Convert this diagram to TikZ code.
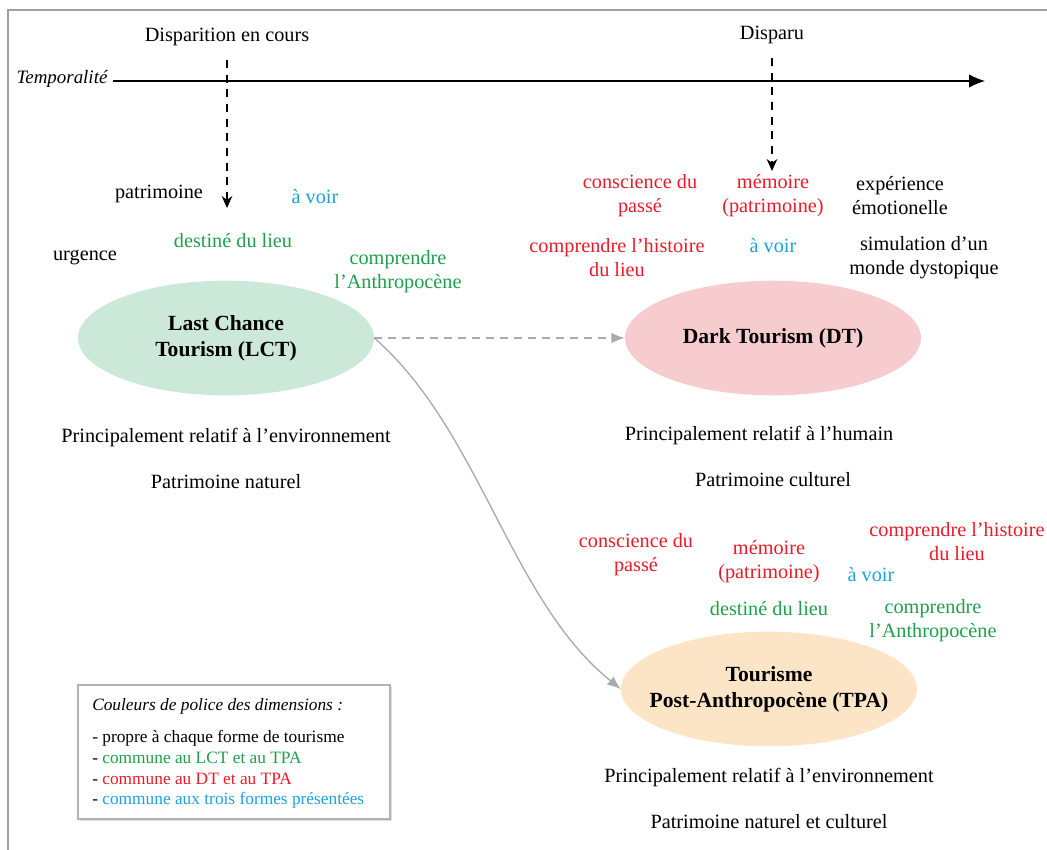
\documentclass[tikz,border=0pt]{standalone}
\usepackage{fontspec}
\setmainfont{Liberation Serif}
\usetikzlibrary{arrows.meta,shapes.geometric}
\definecolor{cgreen}{RGB}{30,160,75}
\definecolor{cred}{RGB}{232,28,40}
\definecolor{cblue}{RGB}{30,160,225}
\definecolor{fgreen}{RGB}{203,232,217}
\definecolor{fpink}{RGB}{247,204,206}
\definecolor{forange}{RGB}{251,229,198}
\definecolor{frame}{RGB}{160,160,160}
\begin{document}
\begin{tikzpicture}[x=0.75pt,y=-0.75pt,
  lbl/.style={font=\fontsize{15.2}{18}\selectfont, align=center, inner sep=0pt},
  ell/.style={ellipse, inner sep=0pt, minimum width=222pt, minimum height=86pt},
  elltext/.style={inner sep=0pt, font=\bfseries\fontsize{16.2}{19.5}\selectfont, align=center},
  leg/.style={font=\fontsize{13}{15}\selectfont, anchor=west, inner sep=0pt},
  dasharrow/.style={line width=0.9pt, dash pattern=on 6pt off 5pt, -{Stealth[length=9pt,width=8pt]}},
  grayarrow/.style={draw=frame!90!white, line width=1pt, -{Latex[length=10pt,width=8pt]}}
]
\useasboundingbox (0,0) rectangle (1047,850);
% frame
\coordinate (f1) at (8,850);
\coordinate (f2) at (8,10);
\coordinate (f3) at (1047,10);
\draw[frame, line width=1pt] (f1) -- (f2) -- (f3);

% axis
\node[lbl, font=\itshape\fontsize{14.2}{18}\selectfont] (temp) at (62,79) {Temporalité};
\coordinate (axstart) at (113,81);
\coordinate (axend) at (985,81);
\draw[line width=0.8pt, -{Latex[length=12pt,width=10pt]}] (axstart) -- (axend);

\node[lbl] (disp1) at (227,37) {Disparition en cours};
\node[lbl] (disp2) at (772,35) {Disparu};
\coordinate (a1s) at (227,60);
\coordinate (a1e) at (227,208);
\coordinate (a2s) at (772,58);
\coordinate (a2e) at (772,171);
\draw[dasharrow] (a1s) -- (a1e);
\draw[dasharrow] (a2s) -- (a2e);

% LCT
\node[ell, fill=fgreen] (lct) at (226,338) {};
\node[elltext] (lcttext) at (lct.center) {Last Chance\\Tourism (LCT)};
\node[lbl] (l1) at (159,194) {patrimoine};
\node[lbl, text=cblue] (l2) at (315,197) {à voir};
\node[lbl, text=cgreen] (l3) at (233,241) {destiné du lieu};
\node[lbl] (l4) at (85,257) {urgence};
\node[lbl, text=cgreen] (l5) at (398,272) {comprendre\\l’Anthropocène};
\node[lbl] (l6) at (226,438) {Principalement relatif à l’environnement};
\node[lbl] (l7) at (226,482) {Patrimoine naturel};

% DT
\node[ell, fill=fpink] (dt) at (773,338) {};
\node[elltext] (dttext) at (dt.center) {Dark Tourism (DT)};
\node[lbl, text=cred] (d1) at (640,196) {conscience du\\passé};
\node[lbl, text=cred] (d2) at (773,196) {mémoire\\(patrimoine)};
\node[lbl] (d3) at (900,196) {expérience\\émotionelle};
\node[lbl, text=cred] (d4) at (617,258) {comprendre l’histoire\\du lieu};
\node[lbl, text=cblue] (d5) at (773,246) {à voir};
\node[lbl] (d6) at (924,258) {simulation d’un\\monde dystopique};
\node[lbl] (d7) at (759,436) {Principalement relatif à l’humain};
\node[lbl] (d8) at (773,480) {Patrimoine culturel};

% TPA
\node[ell, fill=forange] (tpa) at (769,689) {};
\node[elltext] (tpatext) at (tpa.center) {Tourisme\\Post-Anthropocène (TPA)};
\node[lbl, text=cred] (t1) at (636,555) {conscience du\\passé};
\node[lbl, text=cred] (t2) at (769,562) {mémoire\\(patrimoine)};
\node[lbl, text=cblue] (t3) at (871,575) {à voir};
\node[lbl, text=cred] (t4) at (957,542) {comprendre l’histoire\\du lieu};
\node[lbl, text=cgreen] (t5) at (769,609) {destiné du lieu};
\node[lbl, text=cgreen] (t6) at (933,621) {comprendre\\l’Anthropocène};
\node[lbl] (t7) at (769,778) {Principalement relatif à l’environnement};
\node[lbl] (t8) at (769,822) {Patrimoine naturel et culturel};

% connectors
\draw[grayarrow, line width=1.5pt, dash pattern=on 6pt off 4.5pt] (lct.east) -- (dt.west);
\draw[grayarrow] (lct.east) .. controls (480,430) and (510,600) .. (tpa.west);

% legend
\fill[black!12] (80,687) rectangle (392,821);
\node[draw=frame!80!white, fill=white, line width=0.8pt, minimum width=234pt, minimum height=100.5pt, inner sep=0pt] (legend) at (234,752) {};
\node[leg, font=\itshape\fontsize{13}{15}\selectfont] (g0) at (92,706) {Couleurs de police des dimensions :};
\node[leg] (g1) at (92,738) {- propre à chaque forme de tourisme};
\node[leg] (g2) at (92,758) {- \textcolor{cgreen}{commune au LCT et au TPA}};
\node[leg] (g3) at (92,779) {- \textcolor{cred}{commune au DT et au TPA}};
\node[leg] (g4) at (92,800) {- \textcolor{cblue}{commune aux trois formes présentées}};
\end{tikzpicture}
\end{document}
